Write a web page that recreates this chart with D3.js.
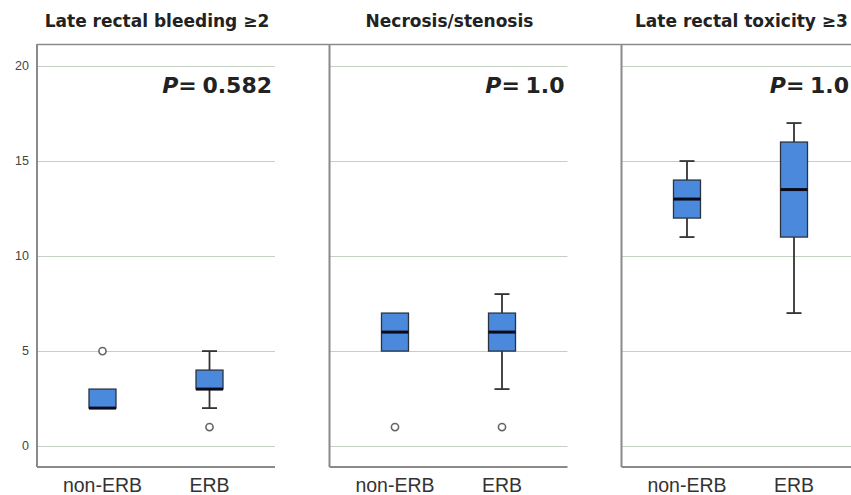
<!DOCTYPE html>
<html>
<head>
<meta charset="utf-8">
<script src="https://cdn.jsdelivr.net/npm/d3@7/dist/d3.min.js"></script>
<style>
  html, body { margin: 0; padding: 0; background: #fff; }
  svg { display: block; }
</style>
</head>
<body>
<svg id="chart" width="851" height="495"></svg>
<script>
// ---- data ----
const panelTitles = ["Late rectal bleeding \u22652", "Necrosis/stenosis", "Late rectal toxicity \u22653"];
const pValues = ["0.582", "1.0", "1.0"];
const groups = ["non-ERB", "ERB"];
const whiskerLow  = [[2, 2], [5, 3], [11, 7]];
const q1          = [[2, 3], [5, 5], [12, 11]];
const medians     = [[2, 3], [6, 6], [13, 13.5]];
const q3          = [[3, 4], [7, 7], [14, 16]];
const whiskerHigh = [[3, 5], [7, 8], [15, 17]];
const outliers    = [[[5], [1]], [[1], [1]], [[], []]];
const yTicks = [0, 5, 10, 15, 20];

// ---- layout ----
const svg = d3.select("#chart");
const W = 851;
const panelLefts = [37, 329.5, 621.5];
const plotW = 238;
const plotTop = 44, plotBottom = 467;
const y = d3.scaleLinear().domain([-1.1, 21.16]).range([plotBottom, plotTop]);
const x = d3.scalePoint().domain(groups).range([0, plotW]).padding(0.612);
const boxW = 27, capW = 15;

const gridColor = "#c3d0c3";
const axisColor = "#8a8a8a";
const boxFill = "#4a89dc";

// top line across
svg.append("line")
  .attr("x1", panelLefts[0]).attr("x2", W)
  .attr("y1", plotTop + 0.5).attr("y2", plotTop + 0.5)
  .attr("stroke", axisColor).attr("stroke-width", 1.5);

panelTitles.forEach((title, pi) => {
  const left = panelLefts[pi];
  const g = svg.append("g").attr("transform", `translate(${left},0)`);

  // gridlines
  g.selectAll("line.grid").data(yTicks).enter().append("line")
    .attr("class", "grid")
    .attr("x1", 0).attr("x2", plotW)
    .attr("y1", d => Math.round(y(d)) + 0.5).attr("y2", d => Math.round(y(d)) + 0.5)
    .attr("stroke", gridColor).attr("stroke-width", 1.2);

  // left axis line
  g.append("line").attr("x1", 0).attr("x2", 0)
    .attr("y1", plotTop).attr("y2", plotBottom)
    .attr("stroke", axisColor).attr("stroke-width", 2);
  // bottom axis line
  g.append("line").attr("x1", 0).attr("x2", plotW)
    .attr("y1", plotBottom).attr("y2", plotBottom)
    .attr("stroke", axisColor).attr("stroke-width", 2);

  // y tick labels on the first panel only
  if (pi === 0) {
    g.selectAll("text.ytick").data(yTicks).enter().append("text")
      .attr("class", "ytick")
      .attr("x", -8).attr("y", d => y(d))
      .attr("dy", "0.35em")
      .attr("text-anchor", "end")
      .attr("font-family", "Liberation Sans, Arial, sans-serif")
      .attr("font-size", 12.5)
      .attr("fill", "#444")
      .text(d => d);
  }

  // title
  g.append("text")
    .attr("x", 120).attr("y", 27)
    .attr("text-anchor", "middle")
    .attr("font-family", "DejaVu Sans, Verdana, sans-serif")
    .attr("font-weight", "bold")
    .attr("font-size", 17)
    .attr("fill", "#222")
    .text(title);

  // P-value
  const pRight = Math.min(left + 235, W - 2) - left;
  const pt = g.append("text")
    .attr("x", pRight).attr("y", 93)
    .attr("text-anchor", "end")
    .attr("font-family", "DejaVu Sans, Verdana, sans-serif")
    .attr("font-weight", "bold")
    .attr("font-size", 22)
    .attr("fill", "#222");
  pt.append("tspan").attr("font-style", "italic").text("P");
  pt.append("tspan").attr("letter-spacing", "-1").text("= ");
  pt.append("tspan").text(pValues[pi]);

  // x labels
  g.selectAll("text.xlab").data(groups).enter().append("text")
    .attr("class", "xlab")
    .attr("x", d => x(d)).attr("y", 492)
    .attr("text-anchor", "middle")
    .attr("font-family", "Liberation Sans, Arial, sans-serif")
    .attr("font-size", 19.5)
    .attr("fill", "#333")
    .text(d => d);

  // boxes
  groups.forEach((grp, gi) => {
    const cx = x(grp);
    const lo = whiskerLow[pi][gi], hi = whiskerHigh[pi][gi];
    const b1 = q1[pi][gi], b3 = q3[pi][gi], med = medians[pi][gi];
    const whiskColor = "#333";

    if (hi > b3) {
      g.append("line").attr("x1", cx).attr("x2", cx)
        .attr("y1", y(b3)).attr("y2", y(hi))
        .attr("stroke", whiskColor).attr("stroke-width", 1.8);
      g.append("line").attr("x1", cx - capW / 2).attr("x2", cx + capW / 2)
        .attr("y1", y(hi)).attr("y2", y(hi))
        .attr("stroke", whiskColor).attr("stroke-width", 1.8);
    }
    if (lo < b1) {
      g.append("line").attr("x1", cx).attr("x2", cx)
        .attr("y1", y(b1)).attr("y2", y(lo))
        .attr("stroke", whiskColor).attr("stroke-width", 1.8);
      g.append("line").attr("x1", cx - capW / 2).attr("x2", cx + capW / 2)
        .attr("y1", y(lo)).attr("y2", y(lo))
        .attr("stroke", whiskColor).attr("stroke-width", 1.8);
    }
    g.append("rect")
      .attr("x", cx - boxW / 2).attr("width", boxW)
      .attr("y", y(b3)).attr("height", y(b1) - y(b3))
      .attr("fill", boxFill)
      .attr("stroke", "#2a3440").attr("stroke-width", 1.3);
    g.append("line")
      .attr("x1", cx - boxW / 2).attr("x2", cx + boxW / 2)
      .attr("y1", y(med)).attr("y2", y(med))
      .attr("stroke", "#0a0a1a").attr("stroke-width", 3);

    g.selectAll(null).data(outliers[pi][gi]).enter().append("circle")
      .attr("cx", cx).attr("cy", d => y(d))
      .attr("r", 3.6)
      .attr("fill", "#fff")
      .attr("stroke", "#666").attr("stroke-width", 1.6);
  });
});
</script>
</body>
</html>
